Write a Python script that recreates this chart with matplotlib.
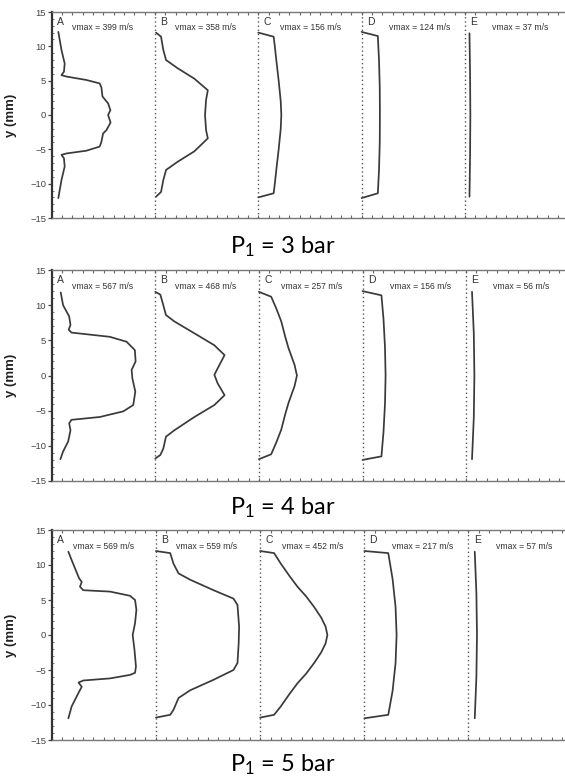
import matplotlib
matplotlib.use("Agg")
import matplotlib.pyplot as plt
from matplotlib.ticker import MultipleLocator

# ---------------- data ----------------
pressures = [3, 4, 5]
columns = ["A", "B", "C", "D", "E"]
vmax_3bar = [399, 358, 156, 124, 37]
vmax_4bar = [567, 468, 257, 156, 56]
vmax_5bar = [569, 559, 452, 217, 57]

# P1 = 3 bar profiles (y in mm, v in m/s)
y_3A = [12.1, 9.5, 7.5, 6.3, 5.8, 5.6, 5.1, 4.6, 4.0, 2.7, 1.7, 0.7, 0.0, -1.1, -2.2, -2.7, -3.9, -4.6, -5.2, -5.6, -5.8, -6.3, -7.5, -9.5, -12.1]
v_3A = [45, 66, 88, 83, 66, 100, 235, 325, 337, 344, 382, 398, 382, 399, 371, 348, 337, 325, 235, 100, 66, 83, 88, 66, 45]
y_3B = [12.0, 11.4, 9.5, 8.0, 6.8, 5.3, 3.6, 2.2, 0.0, -2.2, -3.4, -5.3, -6.8, -8.0, -9.5, -11.2, -11.9]
v_3B = [7, 41, 56, 75, 154, 266, 358, 346, 339, 346, 358, 266, 154, 75, 56, 41, 7]
y_3C = [12.0, 11.4, 10.0, 8.0, 5.0, 2.0, 0.0, -2.0, -5.0, -8.0, -10.0, -11.4, -12.0]
v_3C = [0, 104, 112, 122, 138, 152, 156, 152, 138, 122, 112, 104, 0]
y_3D = [12.1, 11.5, 8.0, 4.0, 0.0, -4.0, -8.0, -11.4, -12.1]
v_3D = [0, 110, 118, 123, 124, 123, 118, 110, 0]
y_3E = [11.9, 6.0, 0.0, -6.0, -11.9]
v_3E = [31, 35, 37, 35, 31]

# P1 = 4 bar profiles
y_4A = [11.8, 10.0, 8.4, 7.2, 6.5, 6.1, 5.5, 4.8, 3.6, 2.0, 0.8, -0.4, -2.3, -4.2, -5.1, -5.9, -6.3, -6.8, -7.8, -9.4, -10.8, -11.9]
v_4A = [61, 77, 118, 127, 115, 134, 393, 506, 562, 567, 540, 545, 565, 551, 483, 325, 134, 118, 127, 111, 77, 59]
y_4B = [11.9, 11.5, 10.0, 8.6, 7.7, 6.0, 4.3, 2.9, 1.0, 0.1, -1.1, -2.8, -4.2, -5.9, -7.8, -8.7, -10.4, -11.3, -11.8]
v_4B = [0, 34, 54, 72, 128, 264, 399, 468, 421, 399, 421, 468, 399, 264, 128, 72, 54, 34, 0]
y_4C = [11.9, 11.2, 9.5, 7.7, 5.5, 3.9, 1.5, 0.0, -1.5, -3.9, -5.5, -7.7, -9.5, -11.2, -11.9]
v_4C = [0, 83, 118, 151, 178, 200, 241, 257, 241, 200, 178, 151, 118, 83, 0]
y_4D = [12.0, 11.4, 8.0, 4.0, 0.0, -4.0, -8.0, -11.5, -12.0]
v_4D = [0, 128, 142, 152, 156, 152, 142, 128, 0]
y_4E = [11.9, 6.0, 0.0, -6.0, -11.9]
v_4E = [40, 52, 56, 52, 40]

# P1 = 5 bar profiles
y_5A = [11.9, 10.7, 8.1, 7.6, 6.9, 6.4, 6.2, 5.6, 5.0, 3.6, 1.7, 0.0, -2.1, -4.5, -5.4, -5.7, -6.2, -6.5, -6.8, -7.4, -8.1, -10.2, -11.9]
v_5A = [112, 134, 184, 202, 190, 212, 392, 526, 560, 569, 560, 544, 556, 566, 560, 526, 392, 212, 180, 202, 184, 134, 112]
y_5B = [12.0, 11.7, 10.2, 8.8, 7.9, 6.4, 5.2, 4.3, 1.2, -1.2, -4.0, -5.0, -6.4, -7.9, -9.0, -10.7, -11.4, -11.8]
v_5B = [0, 96, 118, 152, 230, 387, 521, 548, 559, 556, 548, 521, 387, 230, 152, 118, 96, 0]
y_5C = [12.0, 11.7, 10.2, 8.5, 6.9, 5.5, 4.0, 2.5, 1.2, 0.0, -1.2, -2.5, -4.0, -5.5, -6.9, -8.5, -10.2, -11.4, -11.8]
v_5C = [0, 94, 139, 195, 251, 310, 363, 410, 440, 452, 440, 410, 363, 310, 251, 195, 139, 94, 0]
y_5D = [12.0, 11.7, 8.0, 4.0, 0.0, -4.0, -8.0, -11.4, -11.9]
v_5D = [0, 161, 190, 210, 217, 210, 190, 161, 0]
y_5E = [11.9, 6.0, 0.0, -6.0, -11.9]
v_5E = [42, 53, 57, 53, 42]

COL_WIDTH = 700  # m/s spanned by each column

panels = [
    (pressures[0], vmax_3bar, [(y_3A, v_3A), (y_3B, v_3B), (y_3C, v_3C), (y_3D, v_3D), (y_3E, v_3E)]),
    (pressures[1], vmax_4bar, [(y_4A, v_4A), (y_4B, v_4B), (y_4C, v_4C), (y_4D, v_4D), (y_4E, v_4E)]),
    (pressures[2], vmax_5bar, [(y_5A, v_5A), (y_5B, v_5B), (y_5C, v_5C), (y_5D, v_5D), (y_5E, v_5E)]),
]

# ---------------- layout (pixels) ----------------
W, H = 565, 780
axes_px = [  # left, top, bottom, column width in px
    (51.7, 12, 218, 103.3),
    (51.7, 270, 481, 103.6),
    (51.7, 530, 740, 104.2),
]
title_baseline_px = [253, 514, 771.5]
vmax_offset = [0.20, 0.19, 0.21, 0.27, 0.26]

plt.rcParams["font.family"] = ["Liberation Sans", "DejaVu Sans"]
plt.rcParams["mathtext.fontset"] = "custom"
plt.rcParams["mathtext.rm"] = "Lato"
plt.rcParams["mathtext.it"] = "Lato:italic"

fig = plt.figure(figsize=(W / 100, H / 100), dpi=100)
fig.patch.set_facecolor("white")

line_col = "#3a3a3a"
for (p, vmaxes, profs), (lpx, tpx, bpx, cw), tb in zip(panels, axes_px, title_baseline_px):
    ax = fig.add_axes([lpx / W, (H - bpx) / H, 5 * cw / W, (bpx - tpx) / H])
    ax.set_xlim(0, 5 * COL_WIDTH)
    ax.set_ylim(-15, 15)
    for k, ((ys, vs), lab, vm) in enumerate(zip(profs, columns, vmaxes)):
        x0 = k * COL_WIDTH
        ax.plot([x0 + v for v in vs], ys, color=line_col, lw=1.25,
                solid_joinstyle="round", solid_capstyle="round")
        if k > 0:
            ax.axvline(x0, color="#555555", lw=1.0, ls=(0, (1, 2)))
        ax.text(x0 + 0.05 * COL_WIDTH, 13.6, lab, fontsize=7.5, color="#333333",
                ha="left", va="center")
        ax.text(x0 + vmax_offset[k] * COL_WIDTH, 12.7, f"vmax = {vm} m/s", fontsize=6.2,
                color="#333333", ha="left", va="center")
    ax.spines["right"].set_visible(False)
    ax.spines["left"].set_linewidth(1.6)
    ax.spines["left"].set_color("#333333")
    for s in ("top", "bottom"):
        ax.spines[s].set_color("#777777")
        ax.spines[s].set_linewidth(1.0)
    ax.yaxis.set_major_locator(MultipleLocator(5))
    ax.yaxis.set_minor_locator(MultipleLocator(1))
    ax.xaxis.set_major_locator(MultipleLocator(COL_WIDTH / 10))
    ax.tick_params(axis="x", which="both", direction="in", length=2.5, width=0.8,
                   color="#666666", labelbottom=False, top=True, bottom=True)
    ax.tick_params(axis="y", which="major", direction="out", length=3, width=0.9,
                   color="#444444", labelsize=6.8, labelcolor="#444444", pad=1)
    ax.tick_params(axis="y", which="minor", direction="in", length=1.5, width=0.6,
                   color="#666666")
    ax.set_ylabel("y (mm)", fontsize=9.5, fontweight="bold", color="#222222")
    ax.yaxis.set_label_coords(-(lpx - 17) / (5 * cw), 0.5)
    fig.text(0.5, (H - tb) / H, r"$\mathrm{P}_1$" + f" = {p} bar", fontsize=17,
             family="Lato", ha="center", va="baseline", color="black")

fig.savefig("out.png", dpi=100, facecolor="white")
